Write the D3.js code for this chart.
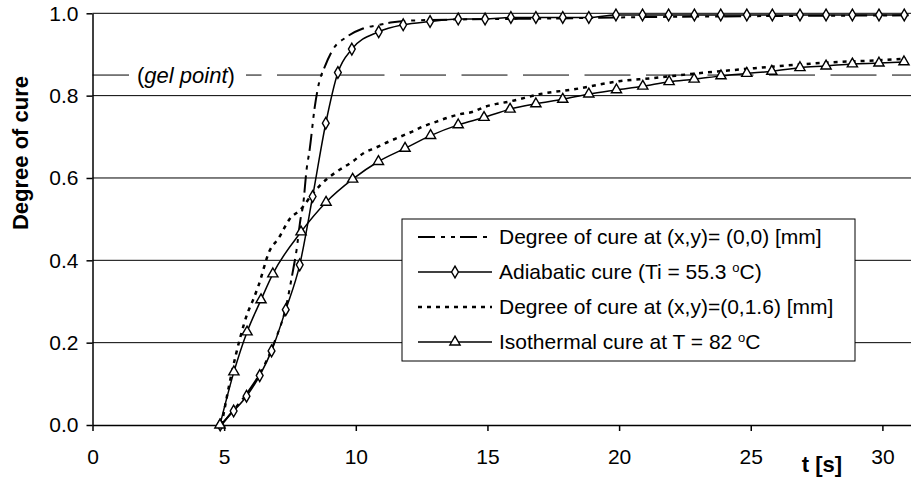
<!DOCTYPE html>
<html>
<head>
<meta charset="utf-8">
<script src="https://cdn.jsdelivr.net/npm/d3@7"></script>
<style>
  body { margin: 0; background: #fff; }
  svg { display: block; font-family: Arial, "Liberation Sans", sans-serif; }
</style>
</head>
<body>
<svg></svg>
<script>
// values
const xTicks = [0, 5, 10, 15, 20, 25, 30];
const yTicks = [0, 0.2, 0.4, 0.6, 0.8, 1.0];
const gelPoint = 0.85;

// Degree of cure at (x,y)=(0,0) [mm]  (dash-dot)
const tCenter = [4.9, 5.4, 5.9, 6.4, 6.9, 7.34, 7.6, 7.75, 7.9, 8.0, 8.13, 8.25, 8.44, 8.6, 8.82, 9.13, 9.64, 10.27, 10.9, 11.4, 12, 14, 17, 20, 25, 31];
const vCenter = [0, 0.04, 0.08, 0.13, 0.2, 0.285, 0.37, 0.425, 0.5, 0.535, 0.62, 0.67, 0.772, 0.83, 0.87, 0.912, 0.942, 0.963, 0.972, 0.978, 0.982, 0.985, 0.987, 0.99, 0.993, 0.995];

// Adiabatic cure (diamonds)
const tAdiabatic = [4.85, 5.36, 5.85, 6.35, 6.8, 7.34, 7.87, 8.36, 8.86, 9.32, 9.85, 10.87, 11.8, 12.82, 13.89, 14.91, 15.89, 16.84, 17.86, 18.85, 19.88, 20.89, 21.88, 22.86, 23.86, 24.85, 25.82, 26.87, 27.86, 28.86, 29.87, 30.83];
const vAdiabatic = [0, 0.034, 0.07, 0.12, 0.18, 0.28, 0.389, 0.555, 0.733, 0.856, 0.913, 0.955, 0.972, 0.98, 0.986, 0.986, 0.99, 0.99, 0.99, 0.99, 0.996, 0.996, 0.996, 0.996, 0.996, 0.996, 0.996, 0.996, 0.996, 0.996, 0.996, 0.996];

// Degree of cure at (x,y)=(0,1.6) [mm]  (dotted)
const tSurface = [4.9, 5.3, 5.6, 5.9, 6.1, 6.29, 6.74, 7.05, 7.52, 7.88, 8.4, 8.89, 9.34, 9.88, 10.29, 10.77, 11.24, 11.68, 12.12, 12.59, 13.07, 13.51, 13.96, 14.46, 14.91, 15.35, 15.78, 17.1, 18.25, 20, 21.2, 23.1, 24.3, 26.7, 28.1, 29.9, 30.9];
const vSurface = [0, 0.13, 0.21, 0.274, 0.304, 0.336, 0.425, 0.452, 0.503, 0.522, 0.565, 0.597, 0.618, 0.64, 0.66, 0.674, 0.688, 0.7, 0.712, 0.726, 0.737, 0.747, 0.755, 0.761, 0.773, 0.78, 0.785, 0.805, 0.815, 0.835, 0.842, 0.855, 0.862, 0.875, 0.881, 0.886, 0.89];

// Isothermal cure at T = 82 C (triangles)
const tIso = [4.84, 5.37, 5.87, 6.4, 6.85, 7.92, 8.87, 9.88, 10.86, 11.87, 12.84, 13.89, 14.87, 15.86, 16.84, 17.86, 18.85, 19.9, 20.9, 21.9, 22.85, 23.87, 24.85, 25.8, 26.87, 27.86, 28.86, 29.87, 30.82];
const vIso = [0, 0.129, 0.226, 0.304, 0.367, 0.469, 0.541, 0.597, 0.64, 0.672, 0.703, 0.729, 0.747, 0.767, 0.78, 0.791, 0.804, 0.814, 0.823, 0.834, 0.84, 0.848, 0.854, 0.859, 0.868, 0.872, 0.877, 0.879, 0.882];

const legendLabels = [
  "Degree of cure at (x,y)= (0,0) [mm]",
  ["Adiabatic cure (Ti = 55.3 ", "o", "C)"],
  "Degree of cure at (x,y)=(0,1.6) [mm]",
  ["Isothermal cure at T = 82 ", "o", "C"]
];

const svgWidth = 911;
const svgHeight = 480;
const plot = {left: 92.5, right: 911, top: 13.3, bottom: 425};

const svg = d3.select("svg")
  .attr("width", svgWidth)
  .attr("height", svgHeight);

const x = d3.scaleLinear()
  .domain([0, (plot.right - plot.left) / 26.33])
  .range([plot.left, plot.right]);
const y = d3.scaleLinear().domain([0, 1]).range([plot.bottom, plot.top]);

const zip = (ts, vs) => ts.map((t, i) => [t, vs[i]]);

// gridlines
svg.append("g")
  .selectAll("line")
  .data(yTicks.filter(d => d > 0))
  .join("line")
  .attr("x1", plot.left).attr("x2", plot.right)
  .attr("y1", d => y(d)).attr("y2", d => y(d))
  .attr("stroke", "#000").attr("stroke-width", 1);

// gel point line + label
svg.append("line")
  .attr("x1", plot.left).attr("x2", plot.right)
  .attr("y1", y(gelPoint)).attr("y2", y(gelPoint))
  .attr("stroke", "#000").attr("stroke-width", 1)
  .attr("stroke-dasharray", "46,15.5");
svg.append("rect")
  .attr("x", 129).attr("y", y(gelPoint) - 12)
  .attr("width", 117).attr("height", 24)
  .attr("fill", "#fff");
const gel = svg.append("text")
  .attr("x", 137).attr("y", y(gelPoint))
  .attr("dy", "0.35em")
  .attr("font-size", 22);
gel.append("tspan").text("(");
gel.append("tspan").attr("font-style", "italic").text("gel point");
gel.append("tspan").text(")");

// axes
const yAxis = svg.append("g")
  .attr("transform", `translate(${plot.left},0)`)
  .call(d3.axisLeft(y).tickValues(yTicks).tickFormat(d3.format(".1f")).tickSize(6).tickSizeOuter(0).tickPadding(8));
const xAxis = svg.append("g")
  .attr("transform", `translate(0,${plot.bottom})`)
  .call(d3.axisBottom(x).tickValues(xTicks).tickSize(6).tickSizeOuter(0).tickPadding(18));
[xAxis, yAxis].forEach(a => {
  a.selectAll("text").attr("font-size", 21).attr("font-family", null).attr("fill", "#000");
  a.selectAll("line").attr("stroke", "#000").attr("stroke-width", 1.5);
  a.select(".domain").attr("stroke", "#000").attr("stroke-width", 1.5);
});

svg.append("text")
  .attr("transform", `translate(28,153) rotate(-90)`)
  .attr("text-anchor", "middle")
  .attr("font-weight", "bold").attr("font-size", 22)
  .text("Degree of cure");
svg.append("text")
  .attr("x", 822).attr("y", 472)
  .attr("text-anchor", "middle")
  .attr("font-weight", "bold").attr("font-size", 22)
  .text("t [s]");

// series
const line = d3.line()
  .x(d => x(d[0])).y(d => y(d[1]))
  .curve(d3.curveMonotoneX);

const series = [
  {data: zip(tCenter, vCenter), dash: "17,6,4,6,4,5", width: 2, marker: null},
  {data: zip(tAdiabatic, vAdiabatic), dash: null, width: 1.5, marker: d3.symbolDiamond},
  {data: zip(tSurface, vSurface), dash: "4,5", width: 2.5, marker: null},
  {data: zip(tIso, vIso), dash: null, width: 1.5, marker: d3.symbolTriangle}
];

series.forEach(s => {
  svg.append("path")
    .datum(s.data)
    .attr("fill", "none")
    .attr("stroke", "#000")
    .attr("stroke-width", s.width)
    .attr("stroke-dasharray", s.dash)
    .attr("d", line);
});

series.filter(s => s.marker).forEach(s => {
  svg.append("g")
    .selectAll("path")
    .data(s.data)
    .join("path")
    .attr("transform", d => `translate(${x(d[0])},${y(d[1])})`)
    .attr("d", d3.symbol(s.marker, s.marker === d3.symbolDiamond ? 40 : 45))
    .attr("fill", "#fff")
    .attr("stroke", "#000")
    .attr("stroke-width", 1.4);
});

// legend
const legend = svg.append("g");
legend.append("rect")
  .attr("x", 402).attr("y", 219)
  .attr("width", 453).attr("height", 142)
  .attr("fill", "#fff").attr("stroke", "#000").attr("stroke-width", 1);

series.forEach((s, i) => {
  const ly = 237 + i * 35;
  legend.append("line")
    .attr("x1", 418).attr("x2", 492)
    .attr("y1", ly).attr("y2", ly)
    .attr("stroke", "#000")
    .attr("stroke-width", s.width)
    .attr("stroke-dasharray", s.dash);
  if (s.marker) {
    legend.append("path")
      .attr("transform", `translate(455,${ly})`)
      .attr("d", d3.symbol(s.marker, s.marker === d3.symbolDiamond ? 40 : 45))
      .attr("fill", "#fff").attr("stroke", "#000").attr("stroke-width", 1.4);
  }
  const t = legend.append("text")
    .attr("x", 499).attr("y", ly)
    .attr("dy", "0.35em")
    .attr("font-size", 21);
  const lab = legendLabels[i];
  if (typeof lab === "string") {
    t.text(lab);
  } else {
    t.append("tspan").text(lab[0]);
    t.append("tspan").attr("font-size", 13).attr("dy", -7).text(lab[1]);
    t.append("tspan").attr("dy", 7).text(lab[2]);
  }
});
</script>
</body>
</html>
